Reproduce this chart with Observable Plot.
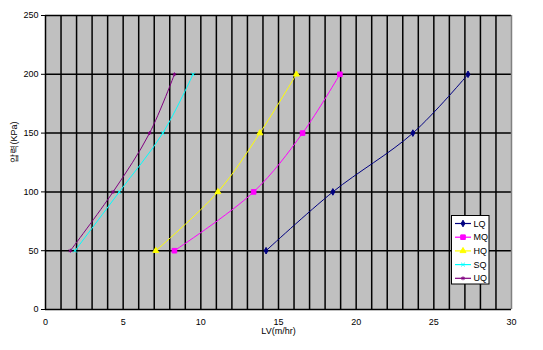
<!DOCTYPE html>
<html><head><meta charset="utf-8">
<script src="https://cdn.jsdelivr.net/npm/d3@7"></script>
<script src="https://cdn.jsdelivr.net/npm/@observablehq/plot@0.6"></script>
<style>body{margin:0;background:#fff;} #chart{width:543px;height:350px;}</style>
</head><body><div id="chart"></div>
<script>
const seriesNames = ["LQ","MQ","HQ","SQ","UQ"];
const colors = ["#000080","#FF00FF","#FFFF00","#00FFFF","#800080"];
const pressure = [50,100,150,200];
const lqLV = [14.2,18.5,23.65,27.2];
const mqLV = [8.3,13.4,16.55,18.95];
const hqLV = [7.1,11.1,13.8,16.15];
const sqLV = [1.9,4.75,7.55,9.5];
const uqLV = [1.6,4.35,6.7,8.3];
const xTicks = [0,5,10,15,20,25,30];
const yTicks = [0,50,100,150,200,250];
const xLabel = "LV(m/hr)";
const yLabel = "압력(KPa)";

const lvs = [lqLV,mqLV,hqLV,sqLV,uqLV];
const data = [];
seriesNames.forEach((s,i)=>pressure.forEach((p,j)=>data.push({series:s,lv:lvs[i][j],p})));
const symbols = {LQ:"diamond",MQ:"square",HQ:"triangle",SQ:"times",UQ:"asterisk"};
const sizes = {LQ:2,MQ:2.6,HQ:2.2,SQ:1.8,UQ:1.8};
const color = Object.fromEntries(seriesNames.map((s,i)=>[s,colors[i]]));

const chart = Plot.plot({
  width:543, height:350,
  marginLeft:45, marginRight:32, marginTop:15, marginBottom:41,
  style:{background:"white", fontFamily:"'Liberation Sans', Arial, sans-serif", fontSize:"9px", color:"black"},
  x:{domain:[0,30]},
  y:{domain:[0,250]},
  marks:[
    Plot.frame({fill:"#C0C0C0", stroke:null}),
    Plot.ruleX(d3.range(1,30), {stroke:"black", strokeWidth:1.5}),
    Plot.ruleY(yTicks.filter(d=>d>0), {stroke:"black", strokeWidth:1.5}),
    Plot.ruleX([30], {stroke:"#808080", strokeWidth:1.5}),
    Plot.ruleX([0], {stroke:"black", strokeWidth:1.5}),
    Plot.ruleY([0], {stroke:"black", strokeWidth:1.5}),
    Plot.axisX({ticks:xTicks, tickSize:0, tickPadding:9, label:null}),
    Plot.axisY({ticks:yTicks, tickSize:4, tickPadding:3, label:null}),
    Plot.text([xLabel], {frameAnchor:"bottom", dy:24, fontSize:9, fill:"black"}),
    Plot.text([yLabel], {frameAnchor:"left", dx:-31, rotate:-90, fontSize:9, fill:"black"}),
    ...seriesNames.map(s=>Plot.line(data.filter(d=>d.series===s), {x:"lv", y:"p", stroke:color[s], strokeWidth:1, curve:"catmull-rom"})),
    ...seriesNames.map(s=>Plot.dot(data.filter(d=>d.series===s), {x:"lv", y:"p", symbol:symbols[s], r:sizes[s],
      fill: (symbols[s]==="times"||symbols[s]==="asterisk") ? "none" : color[s],
      stroke: color[s], strokeWidth:1}))
  ]
});
document.getElementById("chart").appendChild(chart);

// legend inside plot area
const svg = d3.select(chart);
const lg = svg.append("g");
lg.append("rect").attr("x",451.5).attr("y",215.5).attr("width",37.5).attr("height",68.5)
  .attr("fill","white").attr("stroke","black").attr("stroke-width",1);
const symGen = {diamond:d3.symbolDiamond, square:d3.symbolSquare, triangle:d3.symbolTriangle, times:d3.symbolTimes, asterisk:d3.symbolAsterisk};
seriesNames.forEach((s,i)=>{
  const y = 223.5 + i*13.7;
  lg.append("line").attr("x1",455).attr("x2",471).attr("y1",y).attr("y2",y).attr("stroke",color[s]).attr("stroke-width",1.2);
  const sym = symbols[s];
  const sz = Math.PI*sizes[s]*sizes[s];
  lg.append("path").attr("d", d3.symbol(symGen[sym], sz)()).attr("transform",`translate(463,${y})`)
    .attr("fill", (sym==="times"||sym==="asterisk")?"none":color[s]).attr("stroke",color[s]);
  lg.append("text").attr("x",473.5).attr("y",y).attr("dy","0.35em").attr("font-size",9)
    .attr("text-anchor","start").attr("fill","black")
    .attr("font-family","'Liberation Sans', Arial, sans-serif").text(s);
});
</script></body></html>
